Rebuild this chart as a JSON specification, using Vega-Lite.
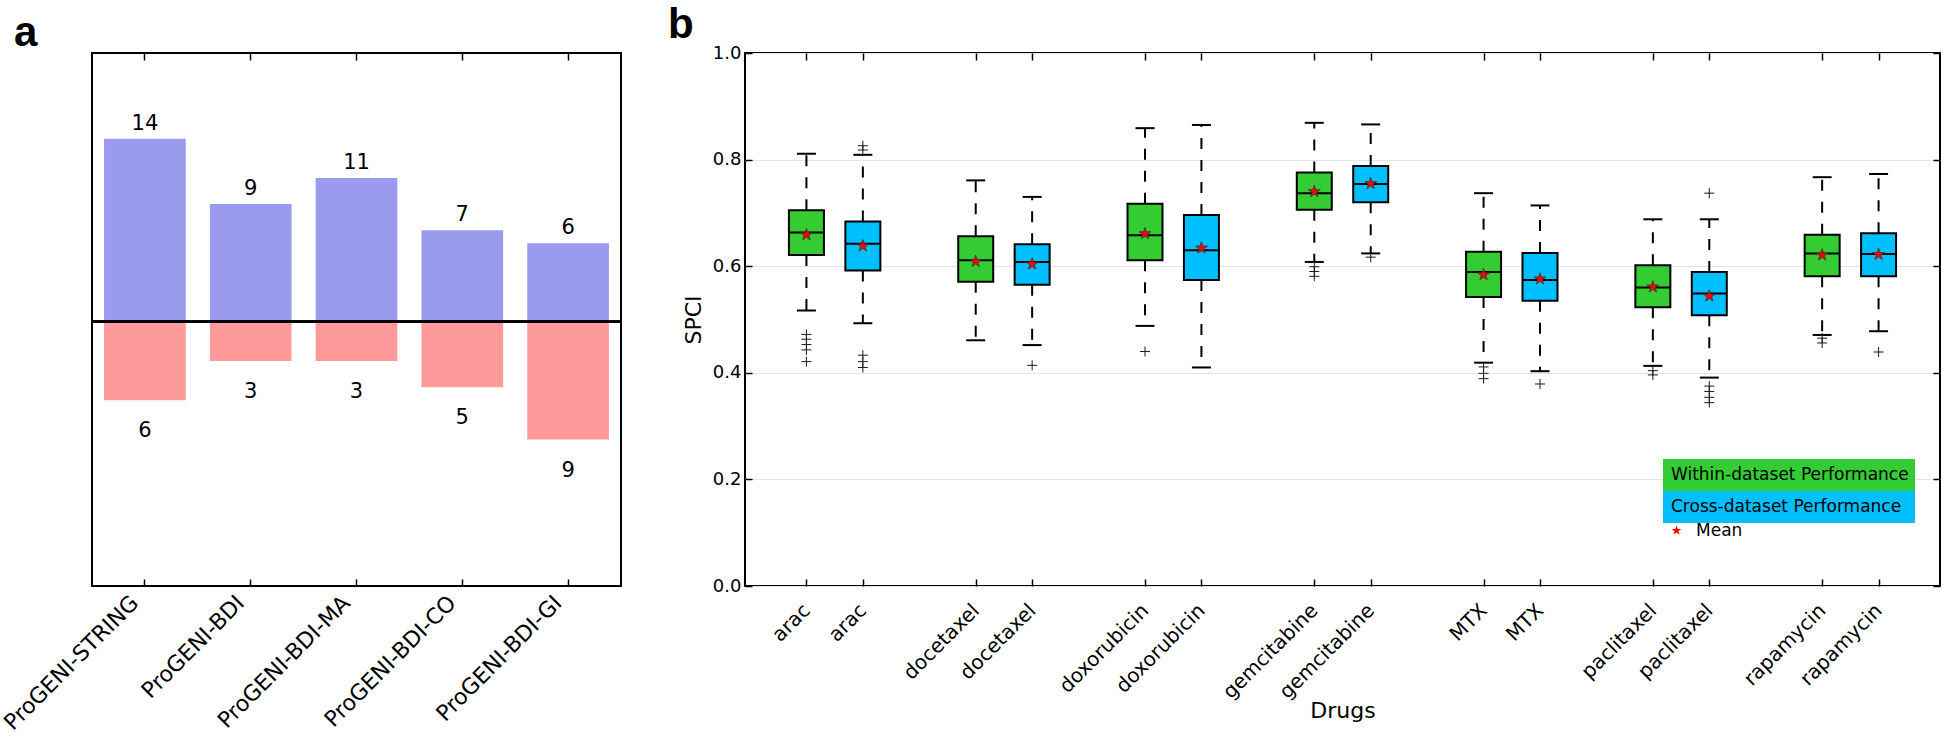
{
  "$schema": "https://vega.github.io/schema/vega-lite/v6.json",
  "padding": {"left": -2, "top": 3, "right": 0, "bottom": 0},
  "spacing": 44,
  "config": {
    "font": "DejaVu Sans",
    "view": {"stroke": "black", "strokeWidth": 2},
    "axis": {"tickColor": "black", "tickWidth": 1.5, "tickSize": -7, "domain": false, "labelColor": "black", "titleColor": "black", "titleFontWeight": "normal", "grid": false, "labelFont": "DejaVu Sans", "titleFont": "DejaVu Sans", "labelFlush": false, "labelOverlap": false}
  },
  "datasets": {
    "counts": [
      {"method": "ProGENI-STRING", "direction": "up", "value": 14, "count": 14},
      {"method": "ProGENI-STRING", "direction": "down", "value": -6, "count": 6},
      {"method": "ProGENI-BDI", "direction": "up", "value": 9, "count": 9},
      {"method": "ProGENI-BDI", "direction": "down", "value": -3, "count": 3},
      {"method": "ProGENI-BDI-MA", "direction": "up", "value": 11, "count": 11},
      {"method": "ProGENI-BDI-MA", "direction": "down", "value": -3, "count": 3},
      {"method": "ProGENI-BDI-CO", "direction": "up", "value": 7, "count": 7},
      {"method": "ProGENI-BDI-CO", "direction": "down", "value": -5, "count": 5},
      {"method": "ProGENI-BDI-GI", "direction": "up", "value": 6, "count": 6},
      {"method": "ProGENI-BDI-GI", "direction": "down", "value": -9, "count": 9}
    ],
    "boxes": [
      {"pos": 1, "drug": "arac", "group": "Within-dataset Performance", "lower": 0.517, "q1": 0.621, "median": 0.663, "q3": 0.705, "upper": 0.811, "mean": 0.659},
      {"pos": 2, "drug": "arac", "group": "Cross-dataset Performance", "lower": 0.493, "q1": 0.592, "median": 0.642, "q3": 0.684, "upper": 0.809, "mean": 0.638},
      {"pos": 4, "drug": "docetaxel", "group": "Within-dataset Performance", "lower": 0.461, "q1": 0.571, "median": 0.611, "q3": 0.656, "upper": 0.761, "mean": 0.609},
      {"pos": 5, "drug": "docetaxel", "group": "Cross-dataset Performance", "lower": 0.452, "q1": 0.565, "median": 0.608, "q3": 0.641, "upper": 0.730, "mean": 0.604},
      {"pos": 7, "drug": "doxorubicin", "group": "Within-dataset Performance", "lower": 0.488, "q1": 0.611, "median": 0.658, "q3": 0.717, "upper": 0.859, "mean": 0.661},
      {"pos": 8, "drug": "doxorubicin", "group": "Cross-dataset Performance", "lower": 0.410, "q1": 0.574, "median": 0.630, "q3": 0.696, "upper": 0.865, "mean": 0.634},
      {"pos": 10, "drug": "gemcitabine", "group": "Within-dataset Performance", "lower": 0.608, "q1": 0.706, "median": 0.737, "q3": 0.776, "upper": 0.869, "mean": 0.740},
      {"pos": 11, "drug": "gemcitabine", "group": "Cross-dataset Performance", "lower": 0.624, "q1": 0.720, "median": 0.754, "q3": 0.788, "upper": 0.866, "mean": 0.755},
      {"pos": 13, "drug": "MTX", "group": "Within-dataset Performance", "lower": 0.419, "q1": 0.542, "median": 0.589, "q3": 0.627, "upper": 0.737, "mean": 0.584},
      {"pos": 14, "drug": "MTX", "group": "Cross-dataset Performance", "lower": 0.403, "q1": 0.535, "median": 0.574, "q3": 0.625, "upper": 0.714, "mean": 0.576},
      {"pos": 16, "drug": "paclitaxel", "group": "Within-dataset Performance", "lower": 0.413, "q1": 0.523, "median": 0.560, "q3": 0.602, "upper": 0.688, "mean": 0.561},
      {"pos": 17, "drug": "paclitaxel", "group": "Cross-dataset Performance", "lower": 0.391, "q1": 0.508, "median": 0.549, "q3": 0.589, "upper": 0.688, "mean": 0.544},
      {"pos": 19, "drug": "rapamycin", "group": "Within-dataset Performance", "lower": 0.471, "q1": 0.581, "median": 0.624, "q3": 0.659, "upper": 0.767, "mean": 0.621},
      {"pos": 20, "drug": "rapamycin", "group": "Cross-dataset Performance", "lower": 0.478, "q1": 0.581, "median": 0.623, "q3": 0.662, "upper": 0.773, "mean": 0.622}
    ],
    "outliers": [
      {"pos": 1, "value": 0.472}, {"pos": 1, "value": 0.463}, {"pos": 1, "value": 0.453}, {"pos": 1, "value": 0.443}, {"pos": 1, "value": 0.421},
      {"pos": 2, "value": 0.826}, {"pos": 2, "value": 0.818}, {"pos": 2, "value": 0.433}, {"pos": 2, "value": 0.421}, {"pos": 2, "value": 0.410},
      {"pos": 5, "value": 0.414},
      {"pos": 7, "value": 0.440},
      {"pos": 10, "value": 0.599}, {"pos": 10, "value": 0.590}, {"pos": 10, "value": 0.581},
      {"pos": 11, "value": 0.617},
      {"pos": 13, "value": 0.411}, {"pos": 13, "value": 0.399}, {"pos": 13, "value": 0.389},
      {"pos": 14, "value": 0.379},
      {"pos": 16, "value": 0.404}, {"pos": 16, "value": 0.396},
      {"pos": 17, "value": 0.737}, {"pos": 17, "value": 0.375}, {"pos": 17, "value": 0.365}, {"pos": 17, "value": 0.354}, {"pos": 17, "value": 0.344},
      {"pos": 19, "value": 0.465}, {"pos": 19, "value": 0.456},
      {"pos": 20, "value": 0.439}
    ]
  },
  "hconcat": [
    {
      "width": 529,
      "height": 533,
      "title": {"text": "a", "anchor": "start", "frame": "group", "dx": -78, "offset": -36, "fontSize": 42, "fontWeight": "bold", "font": "Liberation Sans", "baseline": "alphabetic", "color": "black"},
      "data": {"name": "counts"},
      "layer": [
        {
          "mark": {"type": "bar"},
          "encoding": {
            "x": {"field": "method", "type": "nominal", "sort": null, "scale": {"domain": ["ProGENI-STRING", "ProGENI-BDI", "ProGENI-BDI-MA", "ProGENI-BDI-CO", "ProGENI-BDI-GI"], "paddingInner": 0.228, "paddingOuter": 0.114}, "axis": {"orient": "bottom", "title": null, "labelAngle": -45, "labelAlign": "right", "labelBaseline": "alphabetic", "labelFontSize": 22, "labelPadding": 25, "labelOffset": -5, "labelLimit": 400}},
            "y": {"field": "value", "type": "quantitative", "scale": {"domain": [-20.19, 20.55], "nice": false, "zero": false}, "axis": null},
            "color": {"field": "direction", "type": "nominal", "scale": {"domain": ["up", "down"], "range": ["#9a9aee", "#ff9a9a"]}, "legend": null}
          }
        },
        {
          "mark": {"type": "rule", "color": "black", "strokeWidth": 2},
          "encoding": {"y": {"datum": 0, "type": "quantitative"}}
        },
        {
          "transform": [{"filter": "datum.direction === 'up'"}],
          "mark": {"type": "text", "baseline": "alphabetic", "dy": -9, "fontSize": 21, "color": "black"},
          "encoding": {
            "x": {"field": "method", "type": "nominal", "sort": null, "scale": {"domain": ["ProGENI-STRING", "ProGENI-BDI", "ProGENI-BDI-MA", "ProGENI-BDI-CO", "ProGENI-BDI-GI"], "paddingInner": 0.228, "paddingOuter": 0.114}, "axis": {"orient": "top", "labels": false, "title": null}},
            "y": {"field": "value", "type": "quantitative"},
            "text": {"field": "count", "type": "quantitative"}
          }
        },
        {
          "transform": [{"filter": "datum.direction === 'down'"}],
          "mark": {"type": "text", "baseline": "alphabetic", "dy": 37, "fontSize": 21, "color": "black"},
          "encoding": {
            "x": {"field": "method", "type": "nominal", "sort": null, "scale": {"domain": ["ProGENI-STRING", "ProGENI-BDI", "ProGENI-BDI-MA", "ProGENI-BDI-CO", "ProGENI-BDI-GI"], "paddingInner": 0.228, "paddingOuter": 0.114}, "axis": null},
            "y": {"field": "value", "type": "quantitative"},
            "text": {"field": "count", "type": "quantitative"}
          }
        }
      ],
      "resolve": {"axis": {"x": "independent"}}
    },
    {
      "width": 1195,
      "height": 533,
      "title": {"text": "b", "anchor": "start", "frame": "group", "dx": -77, "offset": -36, "fontSize": 42, "fontWeight": "bold", "font": "Liberation Sans", "baseline": "alphabetic", "color": "black"},
      "data": {"name": "boxes"},
      "layer": [
        {
          "mark": {"type": "rule", "color": "black", "strokeWidth": 2, "strokeDash": [11, 11]},
          "encoding": {
            "x": {"field": "pos", "type": "quantitative", "scale": {"domain": [0, 21], "nice": false, "zero": false}, "axis": {"orient": "bottom", "values": [1, 2, 4, 5, 7, 8, 10, 11, 13, 14, 16, 17, 19, 20], "labelExpr": "['', 'arac', 'arac', '', 'docetaxel', 'docetaxel', '', 'doxorubicin', 'doxorubicin', '', 'gemcitabine', 'gemcitabine', '', 'MTX', 'MTX', '', 'paclitaxel', 'paclitaxel', '', 'rapamycin', 'rapamycin'][datum.value]", "labelAngle": -45, "labelAlign": "right", "labelBaseline": "middle", "labelFontSize": 20, "labelPadding": 28, "labelLimit": 400, "title": "Drugs", "titleFontSize": 22, "titlePadding": -2}},
            "y": {"field": "q3", "type": "quantitative", "scale": {"domain": [0, 1], "nice": false}, "axis": {"orient": "left", "values": [0, 0.2, 0.4, 0.6, 0.8, 1], "format": ".1f", "labelFontSize": 18, "labelPadding": 11, "title": "SPCI", "titleFontSize": 22, "titlePadding": 7, "grid": true, "gridColor": "#e4e4e4", "gridWidth": 1}},
            "y2": {"field": "upper"}
          }
        },
        {
          "mark": {"type": "rule", "color": "black", "strokeWidth": 2, "strokeDash": [11, 11]},
          "encoding": {
            "x": {"field": "pos", "type": "quantitative", "scale": {"domain": [0, 21], "nice": false, "zero": false}, "axis": {"orient": "top", "values": [1, 2, 4, 5, 7, 8, 10, 11, 13, 14, 16, 17, 19, 20], "labels": false, "title": null}},
            "y": {"field": "q1", "type": "quantitative", "scale": {"domain": [0, 1], "nice": false}, "axis": {"orient": "right", "values": [0, 0.2, 0.4, 0.6, 0.8, 1], "labels": false, "title": null, "grid": false}},
            "y2": {"field": "lower"}
          }
        },
        {
          "mark": {"type": "bar", "size": 35, "stroke": "black", "strokeWidth": 2, "opacity": 1},
          "encoding": {
            "x": {"field": "pos", "type": "quantitative", "scale": {"domain": [0, 21], "nice": false, "zero": false}, "axis": null},
            "y": {"field": "q1", "type": "quantitative", "scale": {"domain": [0, 1], "nice": false}, "axis": null},
            "y2": {"field": "q3"},
            "fill": {
              "field": "group", "type": "nominal",
              "scale": {"domain": ["Within-dataset Performance", "Cross-dataset Performance"], "range": ["#33cc33", "#00bfff"]},
              "legend": {
                "orient": "none", "legendX": 1571, "legendY": 406, "direction": "vertical", "title": null, "padding": 0, "offset": 0,
                "symbolType": "M-1,-1H14.75V1H-1Z", "symbolSize": 1024, "symbolStrokeWidth": 0, "symbolStrokeColor": "transparent", "symbolOpacity": 1,
                "labelOffset": -24, "labelFontSize": 17, "labelFont": "DejaVu Sans", "labelColor": "black", "labelLimit": 0, "rowPadding": -9
              }
            }
          }
        },
        {
          "mark": {"type": "tick", "orient": "horizontal", "size": 19, "thickness": 2, "color": "black", "opacity": 1},
          "encoding": {
            "x": {"field": "pos", "type": "quantitative", "scale": {"domain": [0, 21], "nice": false, "zero": false}, "axis": null},
            "y": {"field": "upper", "type": "quantitative", "scale": {"domain": [0, 1], "nice": false}, "axis": null}
          }
        },
        {
          "mark": {"type": "tick", "orient": "horizontal", "size": 19, "thickness": 2, "color": "black", "opacity": 1},
          "encoding": {
            "x": {"field": "pos", "type": "quantitative", "scale": {"domain": [0, 21], "nice": false, "zero": false}, "axis": null},
            "y": {"field": "lower", "type": "quantitative", "scale": {"domain": [0, 1], "nice": false}, "axis": null}
          }
        },
        {
          "mark": {"type": "tick", "orient": "horizontal", "size": 35, "thickness": 2, "color": "black", "opacity": 1},
          "encoding": {
            "x": {"field": "pos", "type": "quantitative", "scale": {"domain": [0, 21], "nice": false, "zero": false}, "axis": null},
            "y": {"field": "median", "type": "quantitative", "scale": {"domain": [0, 1], "nice": false}, "axis": null}
          }
        },
        {
          "data": {"name": "outliers"},
          "mark": {"type": "point", "shape": "M-1,0H1M0,-1V1", "size": 100, "filled": false, "color": "#1a1a1a", "strokeWidth": 1, "opacity": 1},
          "encoding": {
            "x": {"field": "pos", "type": "quantitative", "scale": {"domain": [0, 21], "nice": false, "zero": false}, "axis": null},
            "y": {"field": "value", "type": "quantitative", "scale": {"domain": [0, 1], "nice": false}, "axis": null}
          }
        },
        {
          "mark": {"type": "point", "size": 160, "filled": true, "color": "#ff0000", "stroke": "#333333", "strokeWidth": 0.8, "opacity": 1},
          "encoding": {
            "x": {"field": "pos", "type": "quantitative", "scale": {"domain": [0, 21], "nice": false, "zero": false}, "axis": null},
            "y": {"field": "mean", "type": "quantitative", "scale": {"domain": [0, 1], "nice": false}, "axis": null},
            "shape": {
              "datum": "Mean", "type": "nominal",
              "scale": {"domain": ["Mean"], "range": ["M0,-1L0.2245,-0.309L0.951,-0.309L0.363,0.118L0.588,0.809L0,0.382L-0.588,0.809L-0.363,0.118L-0.951,-0.309L-0.2245,-0.309Z"]},
              "legend": {
                "orient": "none", "legendX": 1576, "legendY": 469, "direction": "vertical", "title": null, "padding": 0, "offset": 0,
                "symbolSize": 110, "symbolStrokeWidth": 0, "symbolStrokeColor": "transparent", "symbolFillColor": "#ff0000", "symbolOpacity": 1,
                "labelOffset": 11, "labelFontSize": 17, "labelFont": "DejaVu Sans", "labelColor": "black", "labelLimit": 0
              }
            }
          }
        }
      ],
      "resolve": {"axis": {"x": "independent", "y": "independent"}}
    }
  ]
}
